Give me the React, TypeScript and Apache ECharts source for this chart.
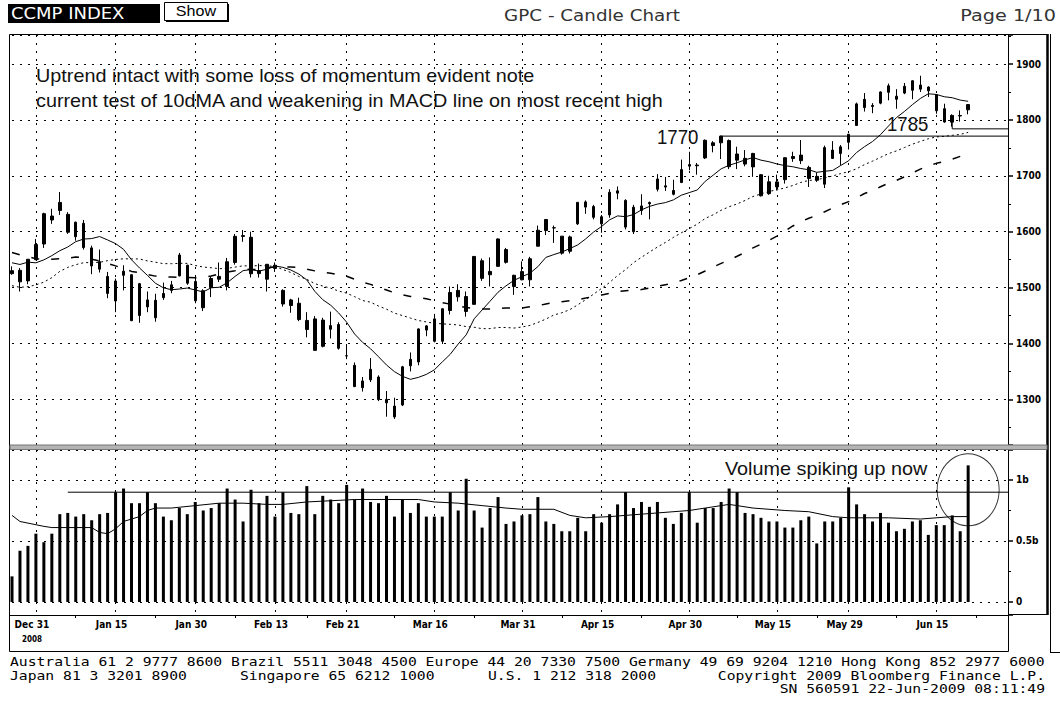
import React, { useEffect, useRef } from "react";
import * as echarts from "echarts";

// ---------- DATA ----------
const dec2008 = [26, 29, 30, 31];
const jan2009 = [2, 5, 6, 7, 8, 9, 12, 13, 14, 15, 16, 20, 21, 22, 23, 26, 27, 28, 29, 30];
const feb2009 = [2, 3, 4, 5, 6, 9, 10, 11, 12, 13, 17, 18, 19, 20, 23, 24, 25, 26, 27];
const mar2009 = [2, 3, 4, 5, 6, 9, 10, 11, 12, 13, 16, 17, 18, 19, 20, 23, 24, 25, 26, 27, 30, 31];
const apr2009 = [1, 2, 3, 6, 7, 8, 9, 13, 14, 15, 16, 17, 20, 21, 22, 23, 24, 27, 28, 29, 30];
const may2009 = [1, 4, 5, 6, 7, 8, 11, 12, 13, 14, 15, 18, 19, 20, 21, 22, 26, 27, 28, 29];
const jun2009 = [1, 2, 3, 4, 5, 8, 9, 10, 11, 12, 15, 16, 17, 18, 19];
const emptyDaysAfter = ["2009-06-22", "2009-06-23", "2009-06-24", "2009-06-25", "2009-06-26"];

const open = [
  1524.9, 1531, 1512, 1550, 1578, 1621, 1638, 1631, 1591, 1615,
  1571, 1533, 1520, 1476, 1522, 1523, 1450, 1478, 1446, 1482,
  1495, 1521, 1540, 1511, 1464, 1500, 1520, 1502, 1545, 1593,
  1590, 1525, 1515, 1540, 1495, 1478, 1472, 1425, 1444, 1395,
  1432, 1434, 1378, 1361, 1333, 1335, 1340, 1300, 1288, 1290,
  1360, 1367, 1424, 1444, 1404, 1459, 1495, 1484, 1470, 1548,
  1523, 1538, 1568, 1522, 1514, 1514, 1574, 1602, 1607, 1592,
  1565, 1614, 1644, 1645, 1614, 1630, 1669, 1656, 1600, 1638,
  1650, 1676, 1682, 1667, 1688, 1720, 1718, 1732, 1759, 1771,
  1763, 1728, 1721, 1740, 1702, 1668, 1689, 1693, 1731, 1737,
  1715, 1699, 1685, 1746, 1740, 1760, 1790, 1822, 1824, 1830,
  1861, 1837, 1848, 1870, 1855, 1852, 1845, 1820, 1796, 1807,
  1818,
];
const high = [
  1538, 1535, 1551, 1587, 1634, 1641, 1671, 1635, 1618, 1621,
  1575, 1568, 1528, 1516, 1540, 1524, 1508, 1493, 1489, 1509,
  1512, 1562, 1541, 1521, 1497, 1520, 1545, 1553, 1596, 1603,
  1600, 1543, 1542, 1545, 1497, 1480, 1482, 1456, 1449, 1446,
  1457, 1438, 1399, 1366, 1340, 1374, 1343, 1315, 1303, 1360,
  1384, 1427, 1433, 1453, 1463, 1502, 1506, 1493, 1556, 1552,
  1554, 1588, 1571, 1523, 1547, 1555, 1611, 1622, 1611, 1592,
  1593, 1653, 1656, 1648, 1630, 1676, 1681, 1658, 1648, 1667,
  1654, 1703, 1698, 1693, 1729, 1743, 1723, 1765, 1762, 1772,
  1765, 1752, 1746, 1741, 1703, 1700, 1702, 1733, 1743, 1764,
  1718, 1706, 1754, 1762, 1755, 1775, 1831, 1848, 1830, 1851,
  1865, 1855, 1866, 1871, 1879, 1860, 1846, 1829, 1810, 1817,
  1828,
];
const low = [
  1523, 1493, 1506, 1549, 1571, 1614, 1630, 1596, 1584, 1568,
  1524, 1527, 1481, 1456, 1495, 1440, 1437, 1456, 1439, 1478,
  1490, 1520, 1505, 1472, 1458, 1483, 1510, 1495, 1541, 1582,
  1518, 1518, 1493, 1528, 1466, 1455, 1440, 1411, 1387, 1393,
  1409, 1389, 1372, 1322, 1314, 1331, 1297, 1269, 1265, 1288,
  1350, 1361, 1413, 1402, 1399, 1452, 1475, 1448, 1470, 1512,
  1502, 1537, 1543, 1487, 1513, 1502, 1574, 1594, 1580, 1559,
  1561, 1612, 1632, 1622, 1598, 1625, 1658, 1604, 1596, 1630,
  1622, 1672, 1673, 1665, 1687, 1710, 1702, 1730, 1742, 1730,
  1712, 1712, 1717, 1698, 1663, 1666, 1674, 1686, 1725, 1721,
  1680, 1689, 1678, 1730, 1719, 1747, 1790, 1815, 1812, 1828,
  1835, 1820, 1846, 1837, 1850, 1841, 1811, 1795, 1788, 1797,
  1810,
];
const close = [
  1530.24, 1510.32, 1550.7, 1577.03, 1632.21, 1628.03, 1652.38, 1599.06, 1617.01, 1571.59,
  1538.79, 1546.46, 1489.64, 1511.84, 1529.33, 1440.86, 1507.07, 1465.49, 1477.29, 1489.46,
  1504.9, 1558.34, 1507.84, 1476.42, 1494.43, 1516.3, 1515.05, 1546.24, 1591.71, 1591.56,
  1524.73, 1530.5, 1541.71, 1534.36, 1470.66, 1467.97, 1442.82, 1441.23, 1387.72, 1441.83,
  1425.43, 1391.47, 1377.84, 1322.85, 1321.01, 1353.74, 1299.59, 1293.85, 1268.64, 1358.28,
  1371.64, 1426.1, 1431.5, 1404.02, 1462.11, 1491.22, 1483.48, 1457.27, 1555.77, 1516.52,
  1528.95, 1587.0, 1545.2, 1501.8, 1528.59, 1551.6, 1602.63, 1621.87, 1606.71, 1561.61,
  1590.66, 1652.54, 1653.31, 1625.72, 1626.8, 1670.44, 1673.07, 1608.21, 1643.85, 1646.12,
  1652.21, 1694.29, 1679.89, 1673.81, 1711.1, 1717.3, 1719.2, 1763.56, 1754.12, 1759.1,
  1716.24, 1739.0, 1731.24, 1715.92, 1664.19, 1689.21, 1680.14, 1732.36, 1734.54, 1727.05,
  1695.25, 1692.01, 1750.43, 1731.08, 1751.79, 1774.33, 1828.68, 1836.8, 1825.92, 1850.02,
  1849.42, 1842.4, 1860.13, 1853.08, 1862.37, 1858.8, 1816.38, 1796.18, 1808.06, 1807.72,
  1827.47,
];
// closes before the first candle (16 Oct - 24 Dec 2008): the start of the moving averages
const priorCloses = [
  1717.71, 1711.29, 1770.03, 1696.68, 1615.75, 1603.91, 1552.03, 1505.9, 1649.47, 1657.21, 1698.52, 1720.95,
  1726.33, 1780.12, 1681.64, 1608.7, 1647.4, 1616.74, 1580.9, 1499.21, 1596.7, 1516.85, 1482.05, 1483.27,
  1386.42, 1316.12, 1384.35, 1472.02, 1464.73, 1532.1, 1535.57,
  1398.07, 1449.8, 1492.38, 1445.56, 1509.31, 1571.74, 1547.34, 1565.59, 1507.88, 1540.72, 1508.34,
  1589.89, 1579.31, 1552.37, 1564.32, 1532.35, 1521.54, 1524.9,
];
const maPeriods = [10, 30, 50];

// volume, billions
const volume = [
  0.21, 0.42, 0.46, 0.56, 0.49, 0.56, 0.72, 0.73, 0.7, 0.72,
  0.67, 0.72, 0.73, 0.9, 0.93, 0.81, 0.81, 0.9, 0.81, 0.7,
  0.67, 0.77, 0.72, 0.82, 0.75, 0.77, 0.81, 0.93, 0.84, 0.66,
  0.92, 0.81, 0.87, 0.7, 0.9, 0.73, 0.72, 0.95, 0.72, 0.87,
  0.84, 0.81, 0.96, 0.84, 0.93, 0.82, 0.81, 0.87, 0.7, 0.84,
  0.73, 0.81, 0.7, 0.7, 0.7, 0.9, 0.75, 1.01, 0.75, 0.61,
  0.77, 0.86, 0.64, 0.66, 0.71, 0.72, 0.86, 0.66, 0.64, 0.58,
  0.58, 0.69, 0.58, 0.72, 0.65, 0.72, 0.8, 0.9, 0.77, 0.82,
  0.78, 0.82, 0.69, 0.64, 0.73, 0.9, 0.65, 0.77, 0.77, 0.82,
  0.93, 0.9, 0.73, 0.72, 0.69, 0.66, 0.66, 0.61, 0.61, 0.67,
  0.7, 0.48, 0.66, 0.66, 0.69, 0.94, 0.8, 0.72, 0.66, 0.73,
  0.65, 0.58, 0.6, 0.66, 0.67, 0.55, 0.63, 0.63, 0.71, 0.58,
  1.12,
];
// volume moving average, read at points along the line: [day index, billions]
const volumeAverage = [
  [0, 0.71], [1, 0.66], [4, 0.62], [5, 0.61], [10, 0.61], [11, 0.57], [12, 0.56], [13, 0.6],
  [14, 0.66], [16, 0.7], [17, 0.75], [18, 0.77], [20, 0.77], [23, 0.79], [26, 0.81], [29, 0.81],
  [32, 0.8], [34, 0.8], [37, 0.82], [40, 0.83], [43, 0.84], [51, 0.84], [53, 0.82], [56, 0.81],
  [59, 0.79], [62, 0.77], [64, 0.76], [68, 0.76], [70, 0.71], [72, 0.69], [75, 0.7], [77, 0.71],
  [81, 0.73], [85, 0.75], [87, 0.77], [90, 0.8], [93, 0.77], [97, 0.75], [100, 0.74], [103, 0.7],
  [105, 0.69], [110, 0.69], [114, 0.68], [118, 0.7], [120, 0.7],
];

// annotation levels
const resistance1770 = [[89, 1771], [125, 1771]];
const support1785 = [[118, 1797], [118, 1784], [125, 1784]];
const volumeLevel = [[7, 0.9], [125, 0.9]];
const volumeSpike = [[120, 0.92]];

// axis labels
const labelIndex = [3, 13, 23, 33, 42, 53, 64, 74, 85, 96, 105, 116];
const labelText = ["Dec 31", "Jan 15", "Jan 30", "Feb 13", "Feb 21", "Mar 16", "Mar 31", "Apr 15", "Apr 30", "May 15", "May 29", "Jun 15"];
const midTickIndex = [8, 18, 28, 37, 48, 58, 69, 79, 91, 101, 111, 121];

// ---------- BUILD ----------
const pad = (n: number) => (n < 10 ? "0" + n : "" + n);
const dates = [
  ...dec2008.map((d) => `2008-12-${pad(d)}`),
  ...jan2009.map((d) => `2009-01-${pad(d)}`),
  ...feb2009.map((d) => `2009-02-${pad(d)}`),
  ...mar2009.map((d) => `2009-03-${pad(d)}`),
  ...apr2009.map((d) => `2009-04-${pad(d)}`),
  ...may2009.map((d) => `2009-05-${pad(d)}`),
  ...jun2009.map((d) => `2009-06-${pad(d)}`),
];
const categories = [...dates, ...emptyDaysAfter];
const ohlc = close.map((c, i) => [open[i], c, low[i], high[i]]);
const allCloses = [...priorCloses, ...close];
const sma = (n: number) =>
  close.map((_, i) => {
    const end = priorCloses.length + i;
    let s = 0;
    for (let k = end - n + 1; k <= end; k++) s += allCloses[k];
    return +(s / n).toFixed(2);
  });
const [ma10, ma30, ma50] = maPeriods.map(sma);

const labelSet = new Set(labelIndex);
const midSet = new Set(midTickIndex);

const AXF = '"Liberation Sans Narrow", "Arial Narrow", "DejaVu Sans Condensed", sans-serif';
const BBF = '"DejaVu Sans", sans-serif';
const MONO = '"DejaVu Sans Mono", monospace';
const ANN = '"Liberation Sans", Arial, sans-serif';
const dotted = { color: "#000", width: 1, type: [2, 6] as number[] };

const xAxisBase = (gridIndex: number) => ({
  type: "category",
  gridIndex,
  data: categories,
  boundaryGap: false,
  axisLine: { show: gridIndex === 1, onZero: false, lineStyle: { color: "#000", width: 1 } },
  splitLine: { show: true, interval: (i: number) => labelSet.has(i), lineStyle: dotted },
});

const annText = (text: string, x: number, y: number, size: number, sx: number) => ({
  type: "text",
  x,
  y,
  scaleX: sx,
  z: 50,
  style: { text, fill: "#111", fontSize: size, fontFamily: ANN, textVerticalAlign: "middle" },
});

const yLabel = { margin: 8, showMinLabel: false, showMaxLabel: false, fontSize: 10, fontWeight: "bold", fontFamily: AXF, color: "#000" };

const option: any = {
  animation: false,
  backgroundColor: "#fff",
  grid: [
    { left: 12, width: 996, top: 35, height: 410 },
    { left: 12, width: 996, top: 450, height: 165 },
  ],
  xAxis: [
    {
      ...xAxisBase(0),
      axisTick: { show: true, interval: (i: number) => labelSet.has(i), length: 5, lineStyle: { color: "#000" } },
      axisLabel: { show: false },
    },
    {
      ...xAxisBase(1),
      axisTick: { show: true, interval: (i: number) => midSet.has(i), length: 3, lineStyle: { color: "#000" } },
      axisLabel: {
        show: true,
        interval: (i: number) => labelSet.has(i),
        margin: 3,
        padding: [0, 8, 0, 0],
        formatter: (_v: string, i: number) => {
          const t = labelText[labelIndex.indexOf(i)];
          return i === labelIndex[0] ? `{a|${t}}\n{b|2008}` : `{a|${t}}`;
        },
        rich: {
          a: { fontSize: 10, fontWeight: "bold", fontFamily: AXF, color: "#000", lineHeight: 13 },
          b: { fontSize: 8, fontWeight: "bold", fontFamily: AXF, color: "#000", lineHeight: 17 },
        },
      },
    },
  ],
  yAxis: [
    {
      type: "value",
      gridIndex: 0,
      position: "right",
      min: 1218.4,
      max: 1951.9,
      splitNumber: 5,
      axisLine: { show: true, lineStyle: { color: "#000" } },
      axisTick: { show: true, length: 5, lineStyle: { color: "#000", width: 1.5 } },
      minorTick: { show: true, splitNumber: 2, length: 3, lineStyle: { color: "#000" } },
      axisLabel: { ...yLabel, formatter: (v: number) => String(Math.round(v)) },
      splitLine: { show: true, lineStyle: dotted },
    },
    {
      type: "value",
      gridIndex: 1,
      position: "right",
      min: -0.1066,
      max: 1.2459,
      splitNumber: 3,
      axisLine: { show: true, lineStyle: { color: "#000" } },
      axisTick: { show: true, length: 5, lineStyle: { color: "#000", width: 1.5 } },
      minorTick: { show: true, splitNumber: 2, length: 3, lineStyle: { color: "#000" } },
      axisLabel: {
        ...yLabel,
        formatter: (v: number) =>
          Math.abs(v) < 1e-6 ? "0" : Math.abs(v - 0.5) < 1e-6 ? "0.5b" : Math.abs(v - 1) < 1e-6 ? "1b" : "",
      },
      splitLine: { show: true, lineStyle: dotted },
    },
  ],
  series: [
    {
      type: "candlestick",
      xAxisIndex: 0,
      yAxisIndex: 0,
      data: ohlc,
      barWidth: 3,
      silent: true,
      itemStyle: { color: "#000", color0: "#000", borderColor: "#000", borderColor0: "#000", borderWidth: 1 },
    },
    {
      type: "line", xAxisIndex: 0, yAxisIndex: 0, data: ma10, symbol: "none", silent: true,
      lineStyle: { color: "#000", width: 1 },
    },
    {
      type: "line", xAxisIndex: 0, yAxisIndex: 0, data: ma30, symbol: "none", silent: true,
      lineStyle: { color: "#000", width: 1, type: [2, 3] },
    },
    {
      type: "line", xAxisIndex: 0, yAxisIndex: 0, data: ma50, symbol: "none", silent: true,
      lineStyle: { color: "#000", width: 1.5, type: [8, 12] },
    },
    {
      type: "line", xAxisIndex: 0, yAxisIndex: 0, data: resistance1770, symbol: "none", silent: true,
      lineStyle: { color: "#000", width: 1 },
    },
    {
      type: "line", xAxisIndex: 0, yAxisIndex: 0, data: support1785, symbol: "none", silent: true,
      lineStyle: { color: "#000", width: 1 },
    },
    {
      type: "bar", xAxisIndex: 1, yAxisIndex: 1, data: volume, barWidth: 3, silent: true,
      itemStyle: { color: "#000" },
    },
    {
      type: "line", xAxisIndex: 1, yAxisIndex: 1, data: volumeAverage, symbol: "none", silent: true,
      lineStyle: { color: "#000", width: 1 },
    },
    {
      type: "line", xAxisIndex: 1, yAxisIndex: 1, data: volumeLevel, symbol: "none", silent: true,
      lineStyle: { color: "#000", width: 1 },
    },
    {
      type: "scatter", xAxisIndex: 1, yAxisIndex: 1, data: volumeSpike, symbol: "circle",
      symbolSize: [62, 72], silent: true,
      itemStyle: { color: "rgba(0,0,0,0)", borderColor: "#000", borderWidth: 1 },
    },
  ],
  graphic: [
    // header
    { type: "rect", shape: { x: 8, y: 4, width: 152, height: 19 }, style: { fill: "#000" } },
    {
      type: "text", x: 11, y: 14, scaleX: 1.2,
      style: { text: "CCMP INDEX", fill: "#fff", fontSize: 15, fontFamily: BBF, textVerticalAlign: "middle" },
    },
    { type: "rect", shape: { x: 166, y: 4, width: 63, height: 18 }, style: { fill: "#000" } },
    { type: "rect", shape: { x: 164.5, y: 2.5, width: 63, height: 18 }, style: { fill: "#fff", stroke: "#000", lineWidth: 1 } },
    {
      type: "text", x: 196, y: 11, scaleX: 1.15,
      style: { text: "Show", fill: "#000", fontSize: 14, fontFamily: ANN, textAlign: "center", textVerticalAlign: "middle" },
    },
    {
      type: "text", x: 592, y: 16, scaleX: 1.22,
      style: { text: "GPC - Candle Chart", fill: "#333", fontSize: 15, fontFamily: BBF, textAlign: "center", textVerticalAlign: "middle" },
    },
    {
      type: "text", x: 1056, y: 16, scaleX: 1.28,
      style: { text: "Page 1/10", fill: "#333", fontSize: 15, fontFamily: BBF, textAlign: "right", textVerticalAlign: "middle" },
    },
    // frames
    { type: "rect", z: 40, shape: { x: 9.5, y: 34.5, width: 999, height: 617 }, style: { fill: "none", stroke: "#000", lineWidth: 1 } },
    { type: "line", z: 40, shape: { x1: 1008, y1: 34.5, x2: 1048, y2: 34.5 }, style: { stroke: "#000", lineWidth: 1 } },
    { type: "line", z: 40, shape: { x1: 1047.5, y1: 34, x2: 1047.5, y2: 615 }, style: { stroke: "#000", lineWidth: 2.5 } },
    { type: "line", z: 40, shape: { x1: 1008, y1: 614.5, x2: 1048, y2: 614.5 }, style: { stroke: "#000", lineWidth: 1 } },
    { type: "line", z: 40, shape: { x1: 1050.5, y1: 34, x2: 1050.5, y2: 653 }, style: { stroke: "#000", lineWidth: 1 } },
    { type: "line", z: 40, shape: { x1: 1050, y1: 652.5, x2: 1060, y2: 652.5 }, style: { stroke: "#000", lineWidth: 1 } },
    { type: "line", z: 40, shape: { x1: 9, y1: 615.5, x2: 1008, y2: 615.5 }, style: { stroke: "#000", lineWidth: 1 } },
    { type: "rect", z: 40, shape: { x: 10, y: 445, width: 1037, height: 4.5 }, style: { fill: "#b4b4b4", stroke: "#777", lineWidth: 1 } },
    // annotations
    annText("Uptrend intact with some loss of momentum evident note", 36, 76, 18, 1.1),
    annText("current test of 10dMA and weakening in MACD line on most recent high", 36, 101, 18, 1.1),
    annText("1770", 657, 137, 20, 0.93),
    annText("1785", 887, 124, 20, 0.93),
    annText("Volume spiking up now", 725, 469, 18, 1.1),
    // footer
    ...[
      ["Australia 61 2 9777 8600 Brazil 5511 3048 4500 Europe 44 20 7330 7500 Germany 49 69 9204 1210 Hong Kong 852 2977 6000", 10, 662, "left"],
      ["Japan 81 3 3201 8900", 10, 676, "left"],
      ["Singapore 65 6212 1000", 240, 676, "left"],
      ["U.S. 1 212 318 2000", 488, 676, "left"],
      ["Copyright 2009 Bloomberg Finance L.P.", 1045, 676, "right"],
      ["SN 560591 22-Jun-2009 08:11:49", 1045, 689, "right"],
    ].map(([text, x, y, align]) => ({
      type: "text",
      x,
      y,
      scaleX: 1.225,
      style: { text, fill: "#000", fontSize: 12, fontFamily: MONO, textAlign: align, textVerticalAlign: "middle" },
    })),
  ],
};

export default function App() {
  const ref = useRef<HTMLDivElement>(null);
  useEffect(() => {
    document.body.style.margin = "0";
    const chart = echarts.init(ref.current!, undefined, { renderer: "svg" });
    chart.setOption(option);
    return () => chart.dispose();
  }, []);
  return <div ref={ref} style={{ width: 1060, height: 702 }} />;
}
